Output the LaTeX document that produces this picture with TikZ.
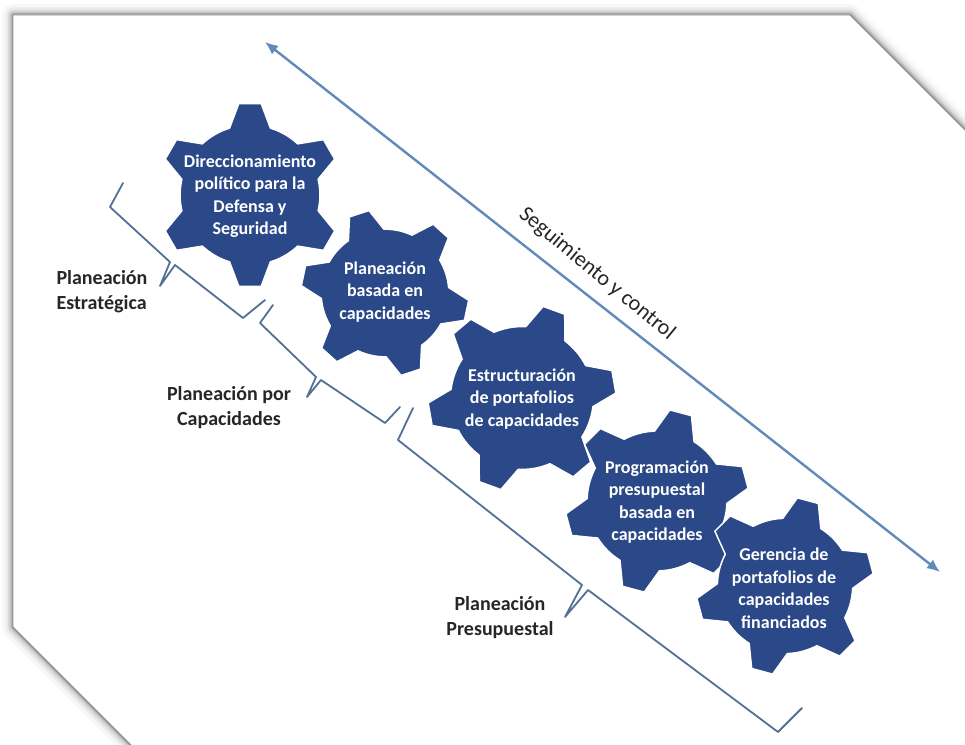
\documentclass[tikz,border=0pt]{standalone}
\usepackage{fontspec}
\setmainfont{Carlito}
\usetikzlibrary{arrows.meta}
\definecolor{cogblue}{RGB}{43,73,136}
\definecolor{arrowblue}{RGB}{98,138,184}
\definecolor{bracegray}{RGB}{84,112,150}
\definecolor{labelgray}{RGB}{38,38,38}

% cog wheel: centre x, centre y, outer radius, angle of the first tooth
\newcommand\cogwheel[4]{%
  \begin{scope}[shift={(#1,#2)}]
    \pgfmathsetmacro\cogin{0.76*#3}
    \filldraw[cogshape] ({#4-17}:\cogin pt)
      \foreach \k in {0,...,5}{
        -- ({#4+60*\k-17}:\cogin pt) -- ({#4+60*\k-7}:#3 pt)
        -- ({#4+60*\k+7}:#3 pt) -- ({#4+60*\k+17}:\cogin pt)
        arc[start angle={#4+60*\k+17}, end angle={#4+60*\k+43}, radius=\cogin pt]
      } -- cycle;
  \end{scope}}

\begin{document}
\begin{tikzpicture}[x=1pt,y=1pt,
  cogshape/.style={fill=cogblue, draw=white, line width=1.5pt, line join=round},
  cogtext/.style={text=white, font=\bfseries\fontsize{18}{22.5}\selectfont, align=center},
  phase/.style={text=labelgray, font=\bfseries\fontsize{20}{25}\selectfont},
  bracket/.style={draw=bracegray, line width=1.8pt, line join=round, line cap=round},
  cycleline/.style={draw=arrowblue, line width=2.4pt,
    {Latex[length=13pt,width=11pt]}-{Latex[length=13pt,width=11pt]}},
]
\useasboundingbox (0,0) rectangle (965,744);
\fill[white] (0,0) rectangle (965,744);

% sheet with cut corners and a soft shadow
\begin{scope}
  \clip (0,0) rectangle (965,744);
  \foreach \w/\o in {22/0.03, 15/0.05, 10/0.07, 6/0.10, 3/0.16}{
    \draw[black, opacity=\o, line width=\w pt, line join=round]
      (13,729) -- (850,729) -- (1150,429) -- (1150,-60) -- (190,-60) -- (13,117) -- cycle;}
  \filldraw[fill=white, draw=black!45, line width=0.8pt, line join=round]
      (13,729) -- (850,729) -- (1150,429) -- (1150,-60) -- (190,-60) -- (13,117) -- cycle;
\end{scope}

% monitoring arrow
\coordinate (cycstart) at (265,702);
\coordinate (cycend) at (940,172);
\draw[cycleline] (cycend) -- (cycstart);
\node[text=labelgray, font=\fontsize{22}{26}\selectfont, rotate=-39.5]
  (cyclabel) at (597,470) {Seguimiento y control};

% cog wheels
\cogwheel{250}{549}{92}{30}
\cogwheel{385}{451}{84}{48}
\cogwheel{522}{346}{94}{10}
\cogwheel{657}{243}{92}{15}
\cogwheel{785}{158}{89}{15}

\node[cogtext] (g1) at (250,548) {Direccionamiento\\político para la\\Defensa y\\Seguridad};
\node[cogtext] (g2) at (385,452) {Planeación\\basada en\\capacidades};
\node[cogtext] (g3) at (522,345) {Estructuración\\de portafolios\\de capacidades};
\node[cogtext] (g4) at (657,242) {Programación\\presupuestal\\basada en\\capacidades};
\node[cogtext] (g5) at (784,156) {Gerencia de\\portafolios de\\capacidades\\financiados};

% phase brackets
\draw[bracket] (123,561) -- (110,537) -- (170,482) -- (160,458) -- (175,479) -- (243,426) -- (265,444);
\draw[bracket] (273,439) -- (260,421) -- (316,367) -- (307,347) -- (321,364) -- (385,321) -- (400,337);
\draw[bracket] (413,336) -- (398,304) -- (582,159) -- (565,127) -- (588,154) -- (778,12) -- (802,36);

% phase labels
\node[phase, anchor=west, align=left] (p1) at (53,452) {Planeación\\Estratégica};
\node[phase, align=center] (p2) at (229,336) {Planeación por\\Capacidades};
\node[phase, align=center] (p3) at (500,126) {Planeación\\Presupuestal};
\end{tikzpicture}
\end{document}
